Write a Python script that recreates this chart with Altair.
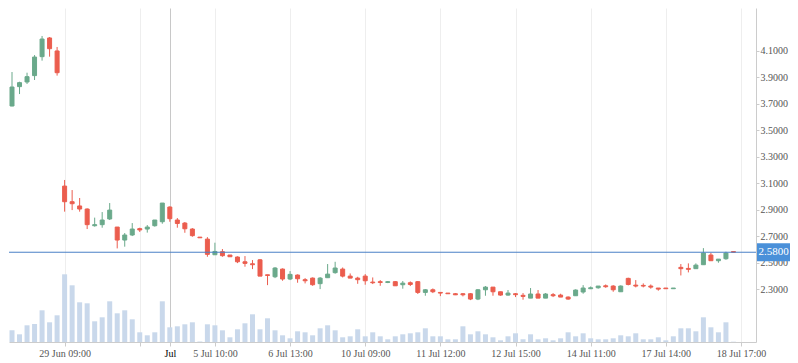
import altair as alt
import pandas as pd

# ---- data ----
open_ = [3.683, 3.829, 3.864, 3.912, 4.055, 4.196, 4.098, 3.079, 2.961, 2.929,
         2.906, 2.780, 2.788, 2.831, 2.770, 2.672, 2.710, 2.758, 2.755, 2.780,
         2.810, 2.921, 2.823, 2.800, 2.755, 2.694, 2.679, 2.561, 2.584, 2.559,
         2.544, 2.508, 2.493, 2.523, 2.410, 2.395, 2.453, 2.378, 2.408, 2.373,
         2.385, 2.343, 2.388, 2.426, 2.453, 2.400, 2.385, 2.400, 2.355, 2.358,
         2.352, 2.358, 2.335, 2.350, 2.358, 2.277, 2.297, 2.277, 2.272, 2.267,
         2.267, 2.267, 2.227, 2.297, 2.317, 2.282, 2.257, 2.267, 2.255, 2.234,
         2.265, 2.234, 2.260, 2.257, 2.242, 2.252, 2.280, 2.305, 2.312, 2.327,
         2.325, 2.282, 2.383, 2.332, 2.330, 2.325, 2.310, 2.310, 2.305, 2.466,
         2.458, 2.456, 2.486, 2.559, 2.516, 2.531, 2.585]
high = [3.939, 3.866, 3.934, 4.067, 4.211, 4.203, 4.128, 3.125, 3.049, 2.989,
        2.911, 2.841, 2.883, 2.951, 2.770, 2.725, 2.800, 2.765, 2.785, 2.823,
        2.951, 2.926, 2.838, 2.808, 2.762, 2.694, 2.694, 2.652, 2.604, 2.559,
        2.549, 2.551, 2.521, 2.529, 2.410, 2.468, 2.458, 2.438, 2.413, 2.385,
        2.390, 2.393, 2.491, 2.508, 2.465, 2.420, 2.395, 2.415, 2.390, 2.370,
        2.363, 2.363, 2.363, 2.360, 2.363, 2.302, 2.307, 2.277, 2.272, 2.272,
        2.272, 2.272, 2.302, 2.325, 2.317, 2.282, 2.295, 2.272, 2.272, 2.310,
        2.295, 2.272, 2.272, 2.267, 2.247, 2.300, 2.332, 2.322, 2.325, 2.337,
        2.332, 2.330, 2.388, 2.370, 2.345, 2.337, 2.310, 2.310, 2.310, 2.491,
        2.496, 2.496, 2.611, 2.576, 2.528, 2.584, 2.585]
low = [3.680, 3.773, 3.849, 3.879, 4.025, 4.055, 3.912, 2.886, 2.898, 2.886,
       2.755, 2.773, 2.765, 2.823, 2.609, 2.622, 2.702, 2.733, 2.728, 2.773,
       2.795, 2.810, 2.765, 2.727, 2.697, 2.689, 2.546, 2.561, 2.546, 2.546,
       2.498, 2.471, 2.453, 2.400, 2.332, 2.385, 2.365, 2.370, 2.350, 2.345,
       2.327, 2.302, 2.388, 2.418, 2.390, 2.385, 2.342, 2.335, 2.340, 2.327,
       2.347, 2.327, 2.305, 2.325, 2.265, 2.252, 2.272, 2.249, 2.267, 2.257,
       2.247, 2.219, 2.219, 2.252, 2.252, 2.252, 2.252, 2.242, 2.222, 2.234,
       2.234, 2.234, 2.242, 2.242, 2.222, 2.252, 2.267, 2.302, 2.305, 2.312,
       2.282, 2.282, 2.330, 2.315, 2.315, 2.305, 2.290, 2.305, 2.305, 2.405,
       2.428, 2.456, 2.486, 2.516, 2.501, 2.523, 2.580]
close = [3.826, 3.859, 3.904, 4.052, 4.188, 4.115, 3.934, 2.961, 2.946, 2.906,
         2.788, 2.788, 2.823, 2.898, 2.672, 2.710, 2.755, 2.748, 2.770, 2.823,
         2.951, 2.833, 2.797, 2.757, 2.705, 2.689, 2.564, 2.586, 2.554, 2.546,
         2.508, 2.496, 2.486, 2.400, 2.405, 2.461, 2.378, 2.413, 2.380, 2.365,
         2.335, 2.385, 2.415, 2.461, 2.400, 2.385, 2.373, 2.365, 2.350, 2.352,
         2.358, 2.327, 2.347, 2.337, 2.277, 2.297, 2.282, 2.272, 2.267, 2.259,
         2.259, 2.227, 2.297, 2.317, 2.282, 2.257, 2.272, 2.260, 2.247, 2.265,
         2.234, 2.265, 2.252, 2.242, 2.227, 2.295, 2.310, 2.312, 2.325, 2.320,
         2.297, 2.325, 2.337, 2.325, 2.325, 2.317, 2.302, 2.305, 2.310, 2.456,
         2.451, 2.483, 2.574, 2.516, 2.528, 2.574, 2.580]
volume = [117, 77, 167, 180, 317, 197, 267, 677, 567, 397,
          387, 207, 247, 407, 287, 317, 227, 97, 67, 97,
          407, 147, 157, 177, 197, 5, 177, 167, 117, 47,
          127, 187, 277, 127, 237, 117, 67, 37, 107, 97,
          67, 137, 167, 117, 47, 57, 127, 57, 97, 57,
          27, 57, 77, 87, 97, 137, 57, 57, 27, 27,
          157, 77, 107, 77, 47, 17, 57, 87, 27, 77,
          27, 37, 17, 37, 97, 57, 87, 37, 27, 27,
          37, 67, 57, 87, 27, 27, 47, 17, 57, 137,
          137, 107, 247, 147, 97, 197, 3]

tick_idx = [7, 17, 21, 27, 37, 47, 57, 67, 77, 87, 97]
tick_text = ["29 Jun 09:00", "", "Jul", "5 Jul 10:00", "6 Jul 13:00",
             "10 Jul 09:00", "11 Jul 12:00", "12 Jul 15:00", "14 Jul 11:00",
             "17 Jul 14:00", "18 Jul 17:00"]
crosshair_idx = 21
price_ticks = [2.3, 2.5, 2.7, 2.9, 3.1, 3.3, 3.5, 3.7, 3.9, 4.1]
last_price = 2.58

UP = "#6aa98b"
DOWN = "#eb5d4e"
VOL = "#c9d8eb"
LINE = "#4a80c6"
BOX = "#4a90d9"
GRID = "#eeeeee"
AXIS = "#cccccc"
LABEL = "#555555"
FONT = "Liberation Serif"

n = len(close)
df = pd.DataFrame({
    "idx": list(range(n)),
    "open": open_, "high": high, "low": low, "close": close,
    "volume": volume,
})
df["dir"] = ["up" if c >= o else "down" for o, c in zip(open_, close)]

W, H = 747, 334
PX_PER_UNIT = 132.6
TOP_PRICE = 4.422

x_scale = alt.Scale(domain=[-0.4, 99.0], nice=False, zero=False, padding=0)
y_scale = alt.Scale(domain=[round(TOP_PRICE - H / PX_PER_UNIT, 4), TOP_PRICE],
                    nice=False, zero=False, padding=0)

label_expr = ("[" + ",".join("'" + t + "'" for t in tick_text) + "][indexof(["
              + ",".join(str(v) for v in tick_idx) + "], datum.value)]")
cross_test = "datum.value === " + str(crosshair_idx)

x_axis = alt.Axis(
    values=tick_idx, labelExpr=label_expr, labelOverlap=False, title=None,
    grid=True,
    gridColor={"condition": {"test": cross_test, "value": "#c8c8c8"}, "value": GRID},
    labelColor={"condition": {"test": cross_test, "value": "#000000"}, "value": LABEL},
    labelFont=FONT, labelFontSize=10, tickSize=4, labelPadding=2,
    domainColor=AXIS, tickColor=AXIS,
)
y_axis = alt.Axis(
    orient="right", values=price_ticks, format=".4f", title=None,
    labelFont=FONT, labelFontSize=10, labelColor=LABEL,
    tickSize=3, labelPadding=1, gridColor=GRID,
    domainColor=AXIS, tickColor=AXIS,
)

X = alt.X("idx:Q", scale=x_scale, axis=x_axis)
color = alt.Color("dir:N", scale=alt.Scale(domain=["up", "down"], range=[UP, DOWN]), legend=None)
stroke = alt.Stroke("dir:N", scale=alt.Scale(domain=["up", "down"], range=[UP, DOWN]), legend=None)

base = alt.Chart(df)

vol = base.mark_bar(size=5, color=VOL).encode(
    x=X,
    y=alt.Y("volume:Q", scale=alt.Scale(domain=[0, H * 10], nice=False, padding=0), axis=None),
)

wick = base.mark_rule(strokeWidth=1).encode(
    x=X,
    y=alt.Y("low:Q", scale=y_scale, axis=y_axis),
    y2="high:Q",
    color=color,
)
body = base.mark_bar(size=4, strokeWidth=1).encode(
    x=X,
    y=alt.Y("open:Q", scale=y_scale, axis=y_axis),
    y2="close:Q",
    color=color,
    stroke=stroke,
)

lp = pd.DataFrame({
    "p": [last_price],
    "top": [last_price + 0.068],
    "bot": [last_price - 0.068],
    "label": [f"{last_price:.4f}"],
})
hline = alt.Chart(lp).mark_rule(color=LINE, strokeWidth=1).encode(
    y=alt.Y("p:Q", scale=y_scale, axis=y_axis)
)
box = alt.Chart(lp).mark_rect(color=BOX).encode(
    x=alt.value(W + 1), x2=alt.value(W + 34),
    y=alt.Y("top:Q", scale=y_scale, axis=y_axis), y2="bot:Q",
)
box_text = alt.Chart(lp).mark_text(
    color="white", font=FONT, fontSize=11, align="center", baseline="middle"
).encode(
    x=alt.value(W + 17.5),
    y=alt.Y("p:Q", scale=y_scale, axis=y_axis),
    text="label:N",
)

price = alt.layer(wick, body, hline, box, box_text)

chart = alt.layer(vol, price).resolve_scale(y="independent").properties(
    width=W, height=H,
    padding={"left": 0, "top": 0, "right": 0, "bottom": 0},
    background="white",
).configure_view(stroke=None)

chart.save("out.html", embed_options={"renderer": "svg", "actions": False})
